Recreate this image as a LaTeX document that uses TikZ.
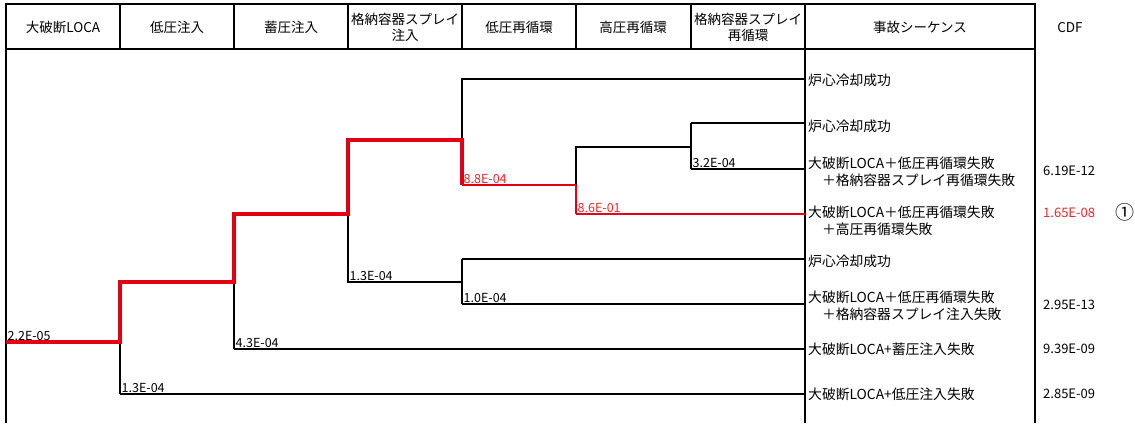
\documentclass[tikz,border=0pt]{standalone}
\usepackage{fontspec}
\setmainfont{Noto Sans CJK JP}
\usetikzlibrary{positioning}
\definecolor{treered}{RGB}{228,0,18}
\definecolor{labred}{RGB}{236,40,40}
\tikzset{
  frame/.style     = {line width=2.2pt},
  okline/.style    = {line width=2.1pt},
  thinline/.style  = {line width=1.5pt},
  failthick/.style = {line width=2.8pt},
  hitline/.style   = {treered, line width=3.8pt},
  hitthin/.style   = {treered, line width=2.1pt},
  hdr/.style       = {font=\fontsize{13.5}{16}\selectfont, align=center, inner sep=0pt},
  seq/.style       = {font=\fontsize{13.8}{17}\selectfont, align=left, anchor=west, inner sep=0pt},
  prob/.style      = {font=\fontsize{12.5}{13}\selectfont, anchor=south west, inner sep=1.5pt},
  cdfval/.style    = {font=\fontsize{13}{14}\selectfont, anchor=west, inner sep=0pt}
}

\begin{document}
\begin{tikzpicture}[x=1pt, y=-1pt]
\useasboundingbox (0,0) rectangle (1135,423);

% Header row
\draw[frame] (6,4) rectangle (1035,49);
\foreach \x in {120, 234, 348, 462, 576, 691, 805} {
    \draw[frame] (\x,4) -- (\x,49);
}
\draw[frame] (6,49) -- (6,423);
\draw[frame] (805,49) -- (805,423);
\draw[frame] (1035,49) -- (1035,423);
\foreach \cx/\txt [count=\i] in {63/大破断LOCA, 177/低圧注入, 291/蓄圧注入,
    405/{格納容器スプレイ\\注入}, 519/低圧再循環, 633/高圧再循環,
    748/{格納容器スプレイ\\再循環}, 920/事故シーケンス} {
    \node[hdr] (h\i) at (\cx,27) {\txt};
}
\node[hdr] (hcdf) at (1070,28) {CDF};

% Branch points
\coordinate (s0) at (6,342);
\coordinate (a1) at (120,282); \coordinate (a2) at (120,342); \coordinate (a3) at (120,394);
\coordinate (b1) at (234,214); \coordinate (b2) at (234,282); \coordinate (b3) at (234,349);
\coordinate (c1) at (348,140); \coordinate (c2) at (348,214); \coordinate (c3) at (348,282);
\coordinate (d1) at (462,79);  \coordinate (d2) at (462,140); \coordinate (d3) at (462,185);
\coordinate (e1) at (462,259); \coordinate (e2) at (462,282); \coordinate (e3) at (462,304);
\coordinate (f1) at (576,147); \coordinate (f2) at (576,185); \coordinate (f3) at (576,214);
\coordinate (g1) at (691,123); \coordinate (g2) at (691,147); \coordinate (g3) at (691,169);
% End points on the sequence line
\foreach \y [count=\i] in {79, 123, 169, 214, 259, 304, 349, 394} {
    \coordinate (z\i) at (805,\y);
}

% Black branches
\draw[okline] (a2) -- (a3);
\draw[thinline] (a3) -- (z8);
\draw[failthick] (a3) -- ++(114,0);
\draw[okline] (b2) -- (b3);
\draw[thinline] (b3) -- (z7);
\draw[failthick] (b3) -- ++(114,0);
\draw[okline] (c2) -- (c3) -- (e2);
\draw[okline] (e1) -- (e3);
\draw[okline] (e1) -- (z5);
\draw[thinline] (e3) -- (z6);
\draw[failthick] (e3) -- ++(114,0);
\draw[okline] (z1) -- (d1) -- (d2);
\draw[okline] (f2) -- (f1) -- (g2);
\draw[failthick] (g1) -- (g3);
\draw[okline] (g1) -- (z2);
\draw[okline] (g3) -- (z3);

% Red sequence path
\draw[hitline] (s0) -- (a2) -- (a1) -- (b2) -- (b1) -- (c2) -- (c1) -- (d2) -- (d3);
\draw[hitthin] (d3) -- (f2);
\draw[treered, line width=2.8pt] (f2) -- (f3);
\draw[hitthin] (f3) -- (z4);

% Branch probabilities
\node[prob] (p1) at (s0) {2.2E-05};
\node[prob] (p2) at (a3) {1.3E-04};
\node[prob] (p3) at (b3) {4.3E-04};
\node[prob] (p4) at (c3) {1.3E-04};
\node[prob, text=labred] (p5) at (d3) {8.8E-04};
\node[prob] (p6) at (e3) {1.0E-04};
\node[prob, text=labred] (p7) at (f3) {8.6E-01};
\node[prob] (p8) at (g3) {3.2E-04};

% Accident sequences
\node[seq] (q1) at (808,80)  {炉心冷却成功};
\node[seq] (q2) at (808,126) {炉心冷却成功};
\node[seq] (q3) at (808,172) {大破断LOCA＋低圧再循環失敗\\　＋格納容器スプレイ再循環失敗};
\node[seq] (q4) at (808,221) {大破断LOCA＋低圧再循環失敗\\　＋高圧再循環失敗};
\node[seq] (q5) at (808,261) {炉心冷却成功};
\node[seq] (q6) at (808,306) {大破断LOCA＋低圧再循環失敗\\　＋格納容器スプレイ注入失敗};
\node[seq] (q7) at (808,349) {大破断LOCA+蓄圧注入失敗};
\node[seq] (q8) at (808,394) {大破断LOCA+低圧注入失敗};

% CDF values
\node[cdfval] (r3) at (1043,171) {6.19E-12};
\node[cdfval, text=labred] (r4) at (1043,213) {1.65E-08};
\node[cdfval] (r6) at (1043,305) {2.95E-13};
\node[cdfval] (r7) at (1043,349) {9.39E-09};
\node[cdfval] (r8) at (1043,394) {2.85E-09};
\node[font=\fontsize{19}{20}\selectfont, inner sep=0pt] (m4) at (1125,212) {①};
\end{tikzpicture}
\end{document}
